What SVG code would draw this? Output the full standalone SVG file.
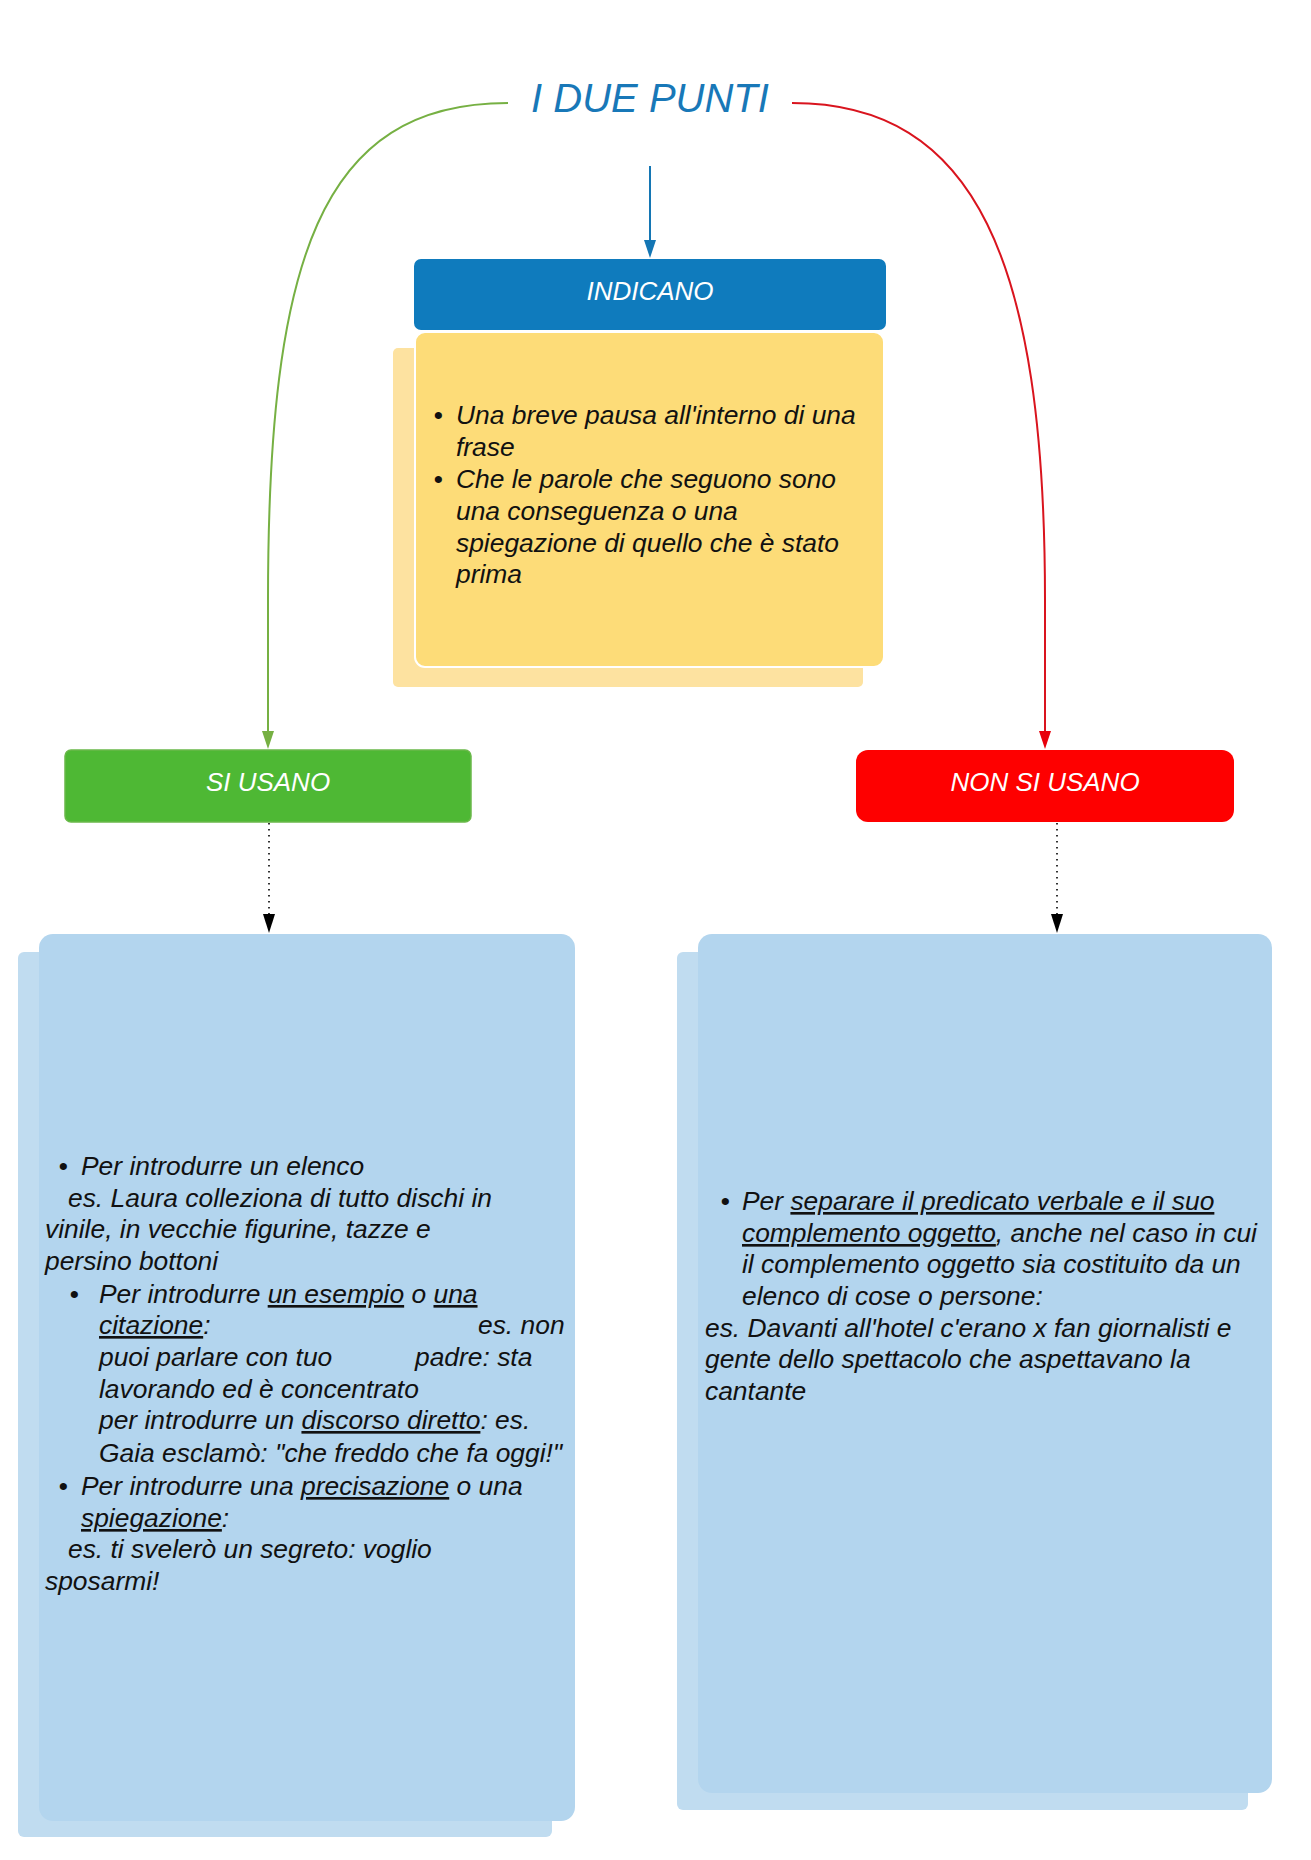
<svg xmlns="http://www.w3.org/2000/svg" width="1311" height="1860" viewBox="0 0 1311 1860">
<defs>
<style>
text{font-family:"Liberation Sans",Arial,sans-serif;font-style:italic}
.t{font-size:26.4px;fill:#111}
.lbl{font-size:26px;fill:#ffffff;text-anchor:middle}
.u{text-decoration:underline}
.b{text-anchor:middle}
</style>
</defs>
<rect width="1311" height="1860" fill="#ffffff"/>

<g id="connectors">
<path d="M508,103 C320,103 268,260 268,600 L268,731" fill="none" stroke="#76b043" stroke-width="2"/>
<path d="M262,731 L274,731 L268,749 Z" fill="#76b043"/>
<path d="M792,103 C975,103 1045,260 1045,600 L1045,731" fill="none" stroke="#d9141e" stroke-width="2"/>
<path d="M1039,731 L1051,731 L1045,749 Z" fill="#e8000b"/>
<path d="M650,166 L650,241" fill="none" stroke="#1476b4" stroke-width="2"/>
<path d="M644,240 L656,240 L650,258 Z" fill="#1476b4"/>
<path d="M269,823 L269,915" fill="none" stroke="#000" stroke-width="1.6" stroke-dasharray="1.6,4.4"/>
<path d="M263,914 L275,914 L269,933 Z" fill="#000"/>
<path d="M1057,823 L1057,915" fill="none" stroke="#000" stroke-width="1.6" stroke-dasharray="1.6,4.4"/>
<path d="M1051,914 L1063,914 L1057,933 Z" fill="#000"/>
</g>

<g id="title">
<text x="650" y="112" font-size="40" fill="#1878b8" text-anchor="middle">I DUE PUNTI</text>
</g>

<g id="indicano">
<rect x="414" y="259" width="472" height="71" rx="7" fill="#0f7bbd"/>
<text class="lbl" x="650" y="300">INDICANO</text>
</g>

<g id="indicano-content">
<rect x="393" y="348" width="470" height="339" rx="5" fill="#fde2a0"/>
<rect x="415" y="332" width="469" height="335" rx="10" fill="#fddc78" stroke="#ffffff" stroke-width="2"/>
<text class="t b" x="438" y="424">•</text>
<text class="t" x="456" y="424">Una breve pausa all'interno di una</text>
<text class="t" x="456" y="456">frase</text>
<text class="t b" x="438" y="488">•</text>
<text class="t" x="456" y="488">Che le parole che seguono sono</text>
<text class="t" x="456" y="520">una conseguenza o una</text>
<text class="t" x="456" y="552">spiegazione di quello che è stato</text>
<text class="t" x="456" y="583">prima</text>
</g>

<g id="si-usano">
<rect x="65" y="750" width="406" height="72" rx="6" fill="#4eb834" stroke="#6ab84a" stroke-width="1.5"/>
<text class="lbl" x="268" y="791">SI USANO</text>
</g>

<g id="non-si-usano">
<rect x="856" y="750" width="378" height="72" rx="12" fill="#fe0000"/>
<text class="lbl" x="1045" y="791">NON SI USANO</text>
</g>

<g id="si-usano-content">
<rect x="18" y="952" width="534" height="885" rx="6" fill="#c0dcf0"/>
<rect x="39" y="934" width="536" height="887" rx="14" fill="#b3d5ee"/>
<text class="t b" x="63" y="1175">•</text>
<text class="t" x="81" y="1175">Per introdurre un elenco</text>
<text class="t" x="68" y="1207">es. Laura colleziona di tutto dischi in</text>
<text class="t" x="45" y="1238">vinile, in vecchie figurine, tazze e</text>
<text class="t" x="45" y="1270">persino bottoni</text>
<text class="t b" x="74" y="1303">•</text>
<text class="t" x="99" y="1303">Per introdurre <tspan class="u">un esempio</tspan> o <tspan class="u">una</tspan></text>
<text class="t" x="99" y="1334"><tspan class="u">citazione</tspan>:</text>
<text class="t" x="478" y="1334">es. non</text>
<text class="t" x="99" y="1366">puoi parlare con tuo</text>
<text class="t" x="415" y="1366">padre: sta</text>
<text class="t" x="99" y="1398">lavorando ed è concentrato</text>
<text class="t" x="99" y="1429">per introdurre un <tspan class="u">discorso diretto</tspan>: es.</text>
<text class="t" x="99" y="1462">Gaia esclamò: "che freddo che fa oggi!"</text>
<text class="t b" x="63" y="1495">•</text>
<text class="t" x="81" y="1495">Per introdurre una <tspan class="u">precisazione</tspan> o una</text>
<text class="t" x="81" y="1527"><tspan class="u">spiegazione</tspan>:</text>
<text class="t" x="68" y="1558">es. ti svelerò un segreto: voglio</text>
<text class="t" x="45" y="1590">sposarmi!</text>
</g>

<g id="non-si-usano-content">
<rect x="677" y="952" width="571" height="858" rx="6" fill="#c0dcf0"/>
<rect x="698" y="934" width="574" height="859" rx="14" fill="#b3d5ee"/>
<text class="t b" x="725" y="1210">•</text>
<text class="t" x="742" y="1210">Per <tspan class="u">separare il predicato verbale e il suo</tspan></text>
<text class="t" x="742" y="1242"><tspan class="u">complemento oggetto</tspan>, anche nel caso in cui</text>
<text class="t" x="742" y="1273">il complemento oggetto sia costituito da un</text>
<text class="t" x="742" y="1305">elenco di cose o persone:</text>
<text class="t" x="705" y="1337">es. Davanti all'hotel c'erano x fan giornalisti e</text>
<text class="t" x="705" y="1368">gente dello spettacolo che aspettavano la</text>
<text class="t" x="705" y="1400">cantante</text>
</g>
</svg>
